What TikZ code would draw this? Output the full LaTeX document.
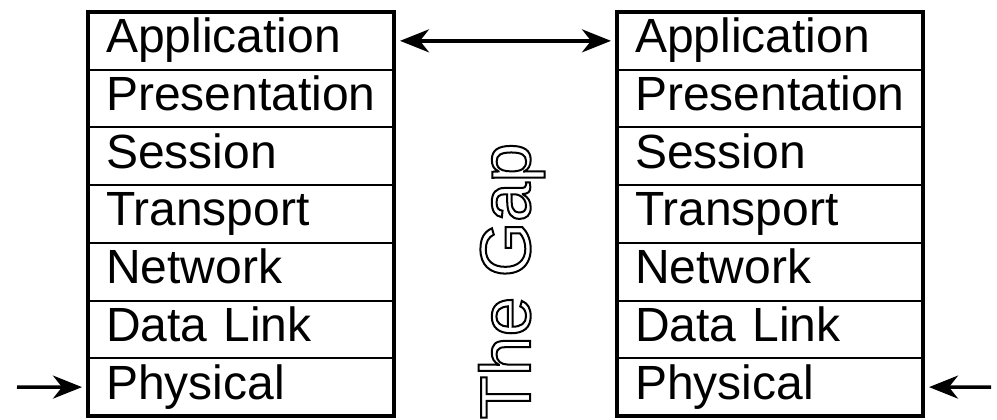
\documentclass[tikz,border=0pt]{standalone}
\usepackage{fontspec}
\setmainfont{Liberation Sans}
\usetikzlibrary{arrows.meta}
\tikzset{
  layer/.style={draw, rectangle, line width=2pt, outer sep=0pt, anchor=north west,
    minimum width=306pt, minimum height=57.71pt, inner xsep=18pt, inner ysep=0pt,
    text width=270pt, align=left, text height=32pt, text depth=8pt,
    font=\fontsize{48}{50}\selectfont},
  frame/.style={draw, line width=4pt},
  arr/.style={line width=3.5pt, shorten >=6pt, shorten <=6pt,
    >={Stealth[length=29pt,width=23pt,inset=9pt]}},
  gaptext/.style={rotate=90, anchor=base, inner sep=0pt, font=\fontsize{71}{71}\selectfont}
}
\begin{document}
\begin{tikzpicture}[x=1pt,y=-1pt]
\useasboundingbox (0,0) rectangle (997,420);
\foreach [count=\i] \t in {Application,Presentation,Session,Transport,Network,Data Link,Physical} {
  \node[layer] (L\i) at (88, {12+57.71*(\i-1)}) {\t};
  \node[layer] (R\i) at (617, {12+57.71*(\i-1)}) {\t};
}
\draw[frame] (L1.north west) rectangle (L7.south east);
\draw[frame] (R1.north west) rectangle (R7.south east);
\draw[arr, <->] (L1.east) -- (R1.west);
\coordinate (inL) at (11, 387.1);
\coordinate (inR) at (997, 387.1);
\draw[arr, ->] (inL) -- (L7.west);
\draw[arr, ->] (inR) -- (R7.east);
\node[gaptext] (gap) at (530,281) {\special{pdf:literal direct 1 Tr 2 w}The Gap\special{pdf:literal direct 0 Tr}};
\end{tikzpicture}
\end{document}
